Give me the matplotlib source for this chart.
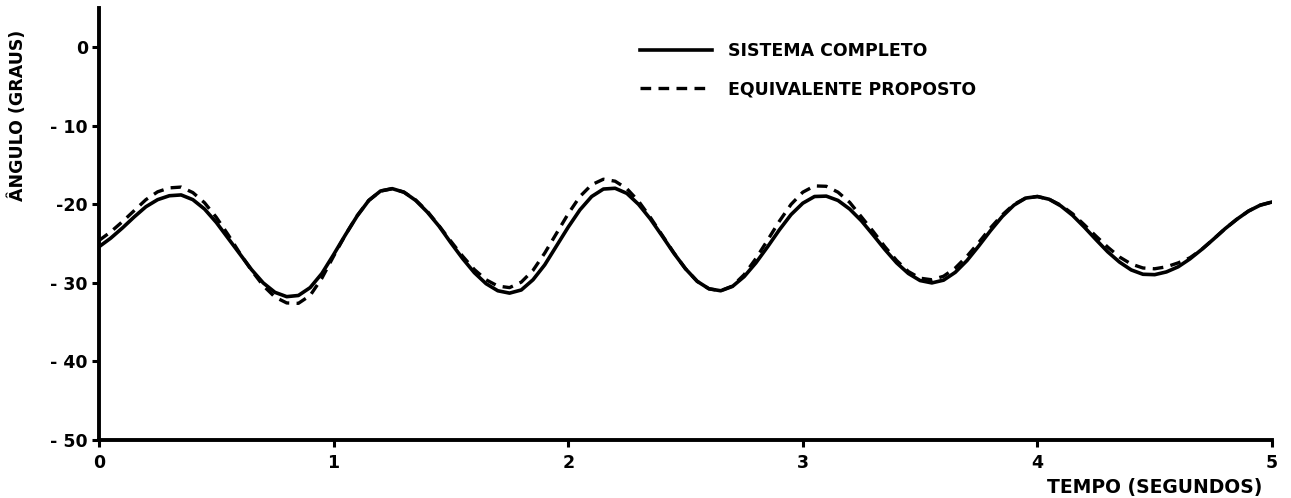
import numpy as np
import matplotlib
matplotlib.use("Agg")
import matplotlib.pyplot as plt

# angle readings every 0.05 s, t = 0 .. 5 s
sistema_completo = [
    -25.4, -24.3, -23.0, -21.6, -20.3, -19.4, -18.9, -18.8, -19.4, -20.6,
    -22.3, -24.3, -26.3, -28.3, -30.0, -31.2, -31.75, -31.6, -30.6, -28.8,
    -26.4, -23.9, -21.5, -19.5, -18.3, -18.0, -18.45, -19.5, -21.0, -22.8,
    -24.9, -26.9, -28.7, -30.1, -31.0, -31.3, -30.9, -29.6, -27.7, -25.3,
    -22.9, -20.7, -19.0, -18.05, -17.95, -18.6, -20.0, -21.85, -24.0, -26.2,
    -28.2, -29.8, -30.75, -31.0, -30.45, -29.2, -27.45, -25.4, -23.25, -21.3,
    -19.85, -19.0, -18.95, -19.5, -20.6, -22.1, -23.9, -25.75, -27.45, -28.8,
    -29.7, -30.0, -29.65, -28.65, -27.15, -25.3, -23.35, -21.55, -20.1, -19.2,
    -19.0, -19.35, -20.2, -21.4, -22.9, -24.5, -26.05, -27.35, -28.35, -28.9,
    -28.95, -28.6, -27.95, -26.95, -25.75, -24.45, -23.1, -21.9, -20.85, -20.1,
    -19.7,
]
equivalente_proposto = [
    -24.6, -23.5, -22.2, -20.8, -19.4, -18.4, -17.9, -17.8, -18.5, -19.8,
    -21.65, -23.85, -26.2, -28.4, -30.35, -31.8, -32.55, -32.6, -31.6, -29.4,
    -26.6, -23.9, -21.45, -19.5, -18.3, -18.0, -18.45, -19.45, -20.9, -22.75,
    -24.7, -26.6, -28.3, -29.6, -30.4, -30.6, -29.9, -28.4, -26.2, -23.7,
    -21.2, -19.0, -17.5, -16.8, -17.05, -18.0, -19.6, -21.65, -23.9, -26.15,
    -28.2, -29.8, -30.75, -31.0, -30.4, -28.95, -26.9, -24.55, -22.15, -20.0,
    -18.45, -17.65, -17.7, -18.45, -19.75, -21.6, -23.45, -25.4, -27.15, -28.55,
    -29.4, -29.6, -29.15, -28.1, -26.6, -24.85, -23.0, -21.35, -20.0, -19.2,
    -19.0, -19.35, -20.1, -21.2, -22.6, -24.05, -25.45, -26.7, -27.6, -28.1,
    -28.2, -27.95, -27.45, -26.8, -25.75, -24.45, -23.1, -21.9, -20.85, -20.1,
    -19.7,
]
tempo = np.linspace(0, 5, len(sistema_completo))

x_ticks = [0, 1, 2, 3, 4, 5]
y_ticks = [0, -10, -20, -30, -40, -50]
y_tick_labels = ["0", "- 10", "-20", "- 30", "- 40", "- 50"]

plt.rcParams['font.family'] = ['DejaVu Sans']
plt.rcParams['font.weight'] = 'bold'

fig = plt.figure(figsize=(12.91, 4.98), dpi=100)
ax = fig.add_axes([99 / 1291, 58 / 498, 1173 / 1291, 432 / 498])

ax.plot(tempo, sistema_completo, color='black', lw=2.6, label='SISTEMA COMPLETO',
        solid_joinstyle='round')
ax.plot(tempo, equivalente_proposto, color='black', lw=2.4, dashes=(3.2, 2.2),
        label='EQUIVALENTE PROPOSTO')

ax.set_xlim(0, 5)
ax.set_ylim(-50, 5)
ax.set_xticks(x_ticks)
ax.set_xticklabels([str(v) for v in x_ticks])
ax.set_yticks(y_ticks)
ax.set_yticklabels(y_tick_labels)
ax.tick_params(axis='both', direction='out', length=5, width=2.2, labelsize=12.5)
ax.tick_params(axis='x', pad=5)
ax.tick_params(axis='y', pad=3)

for side in ['top', 'right']:
    ax.spines[side].set_visible(False)
for side in ['left', 'bottom']:
    ax.spines[side].set_linewidth(2.8)

ax.legend(loc='upper left', bbox_to_anchor=(0.461, 0.922), frameon=False,
          borderpad=0, borderaxespad=0, handlelength=4.15, handletextpad=0.92,
          labelspacing=1.2, prop={'size': 12.5, 'weight': 'bold'})

fig.text(18 / 1291, 1 - 115 / 498, 'ÂNGULO (GRAUS)', rotation=90,
         ha='center', va='center', fontsize=12.5, fontweight='bold')
fig.text(1262 / 1291, 11 / 498, 'TEMPO (SEGUNDOS)', ha='right', va='center',
         fontsize=13.5, fontweight='bold')

fig.savefig('out.png', dpi=100)
